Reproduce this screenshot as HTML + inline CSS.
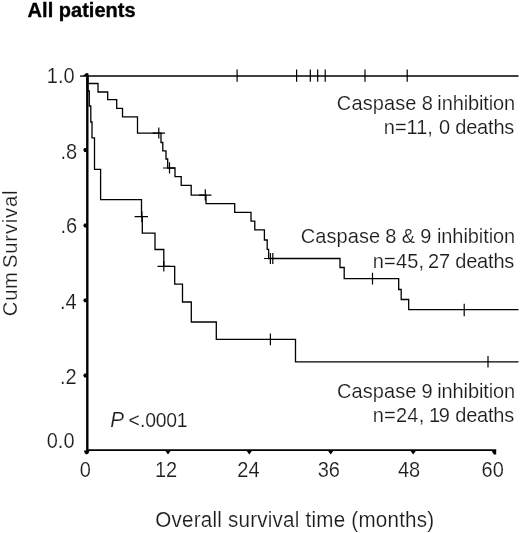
<!DOCTYPE html>
<html>
<head>
<meta charset="utf-8">
<title>All patients</title>
<style>
html,body{margin:0;padding:0;background:#fff;}
body{width:520px;height:533px;overflow:hidden;}
svg{display:block;will-change:transform;opacity:0.9999;}
text{font-family:"Liberation Sans",sans-serif;fill:#1c1c1c;stroke:#fff;stroke-width:0.16;}
.c{fill:none;stroke:#000;stroke-width:1.3;stroke-linejoin:miter;stroke-linecap:butt;}
.t{fill:none;stroke:#000;stroke-width:1.2;}
.ax{fill:none;stroke:#000;}
</style>
</head>
<body>
<svg width="520" height="533" viewBox="0 0 520 533">
<rect width="520" height="533" fill="#fff"/>

<!-- title -->
<text transform="translate(27.6,17.3) scale(1,1)" font-size="20" textLength="108" lengthAdjust="spacing" font-weight="bold" style="fill:#000;stroke:#000;stroke-width:0.35">All patients</text>

<!-- axes -->
<path class="ax" stroke-width="2.4" d="M87.3,73.6 V451"/>
<path class="ax" stroke-width="1.7" d="M86.3,450.2 H496.2"/>

<!-- axis ticks -->
<g fill="#000">
<path d="M80,75.4 H86.5 V76.7 H80 Z"/>
<path d="M82.6,76.2 L86.2,72.9 L88,73.4 V76.2 Z"/>
<path d="M83.2,150 L84.4,148.1 H86.6 V151.9 H84.4 Z"/>
<path d="M83.2,225.5 L84.4,223.6 H86.6 V227.4 H84.4 Z"/>
<path d="M83.2,300.3 L84.4,298.4 H86.6 V302.2 H84.4 Z"/>
<path d="M83.2,375.5 L84.4,373.6 H86.6 V377.4 H84.4 Z"/>
<path d="M83.8,450.6 H89.6 L88.4,453.4 L86.7,454.6 L85,453.4 Z"/>
<path d="M165.1,450.6 H170.9 L168,454.6 Z"/>
<path d="M246.4,450.6 H252.2 L249.3,454.6 Z"/>
<path d="M327.8,450.6 H333.6 L330.7,454.6 Z"/>
<path d="M410.3,450.6 H416.1 L413.2,454.6 Z"/>
<path d="M491.4,450.6 H496.2 V454.5 H493.8 Z"/>
</g>

<!-- y tick labels -->
<text transform="translate(74.6,83.4) scale(1,1.07)" font-size="20" text-anchor="end">1.0</text>
<text transform="translate(77.2,158.6) scale(1,1.07)" font-size="20" text-anchor="end">.8</text>
<text transform="translate(77.2,232.9) scale(1,1.07)" font-size="20" text-anchor="end">.6</text>
<text transform="translate(76.6,309.2) scale(1,1.07)" font-size="20" text-anchor="end">.4</text>
<text transform="translate(76.6,383.5) scale(1,1.07)" font-size="20" text-anchor="end">.2</text>
<text transform="translate(74.5,448.3) scale(1,1.07)" font-size="20" text-anchor="end">0.0</text>
<!-- x tick labels -->
<text transform="translate(85.3,477) scale(1,1.07)" font-size="20" text-anchor="middle">0</text>
<text transform="translate(166.0,477) scale(1,1.07)" font-size="20" text-anchor="middle">12</text>
<text transform="translate(248.4,477) scale(1,1.07)" font-size="20" text-anchor="middle">24</text>
<text transform="translate(328.8,477) scale(1,1.07)" font-size="20" text-anchor="middle">36</text>
<text transform="translate(409.0,477) scale(1,1.07)" font-size="20" text-anchor="middle">48</text>
<text transform="translate(492.7,477) scale(1,1.07)" font-size="20" text-anchor="middle">60</text>
<!-- axis titles -->
<text transform="translate(155.2,527.4) scale(1,1.07)" font-size="20.6" textLength="279" lengthAdjust="spacing">Overall survival time (months)</text>
<text transform="translate(17.1,315.1) rotate(-90)" font-size="20.3"><tspan x="-1.04" textLength="44.1" lengthAdjust="spacing">Cum</tspan> <tspan x="47.08" textLength="77.6" lengthAdjust="spacing">Survival</tspan></text>

<!-- Caspase 8 (flat at 1.0) -->
<path class="c" d="M87,76 H518.5"/>
<path class="t" d="M237.1,69.6 V81.8 M296.6,69.6 V81.8 M310.3,69.6 V81.8 M317.7,69.6 V81.8 M325.2,69.6 V81.8 M365,69.6 V81.8 M407.2,69.6 V81.8"/>

<!-- Caspase 8 and 9 -->
<path class="c" d="M87.5,76 V83.5 H98 V92 H107.7 V99.7 H116.7 V108.3 H122.5 V116.8 H137.5 V133.2 H161 V142.5 H162.8 V150.8 H166 V159 H167.7 V168 H175 V176.6 H181.2 V185.4 H191.2 V195.2 H206 V203.7 H234.7 V212.4 H251 V221.1 H254.8 V229.8 H264.4 V240 H267.2 V249.3 H268.6 V258.5 H340 V267.5 H344.2 V278.7 H398.7 V289.5 H401.2 V299.5 H408.7 V309.6 H518.5"/>
<path class="t" d="M158.8,127.5 V138.6 M152.5,133.2 H165 M169.5,162.2 V173.6 M163,168 H175 M205.3,189.2 V200.6 M199,195.2 H211.5 M270.4,253 V264 M272.8,253 V264 M264,258.5 H276 M372.5,272.8 V284.6 M464.2,303.8 V316.2"/>

<!-- Caspase 9 -->
<path class="c" d="M88,76 V91 H89.3 V106 H90.8 V122 H92 V137.8 H94.5 V169.4 H100.6 V199.7 H141.5 V216.7 H142.3 V233.2 H155 V249.5 H163.8 V266.3 H174.7 V284.2 H182.5 V302 H191.3 V322 H216.3 V339.3 H295.5 V361.9 H518.5"/>
<path class="t" d="M134.6,216.7 H148 M141.9,211.2 V222.2 M157.5,266.3 H170 M163.8,261 V271.6 M270.4,333.5 V345.2 M488,355.9 V367.6"/>

<!-- curve labels -->
<text transform="translate(0,109.7) scale(1,1.02)" font-size="20"><tspan x="336.88" textLength="79.61" lengthAdjust="spacing">Caspase</tspan> <tspan x="421.73">8</tspan> <tspan x="437.36" textLength="77.84" lengthAdjust="spacing">inhibition</tspan></text>
<text transform="translate(0,133.6) scale(1,1.02)" font-size="20"><tspan x="383.87" textLength="48.93" lengthAdjust="spacing">n=11,</tspan> <tspan x="438.92">0</tspan> <tspan x="455.26" textLength="59.06" lengthAdjust="spacing">deaths</tspan></text>
<text transform="translate(0,243.4) scale(1,1.02)" font-size="20"><tspan x="300.88" textLength="79.21" lengthAdjust="spacing">Caspase</tspan> <tspan x="385.23">8</tspan> <tspan x="401.8">&amp;</tspan> <tspan x="420.26">9</tspan> <tspan x="436.96" textLength="78.24" lengthAdjust="spacing">inhibition</tspan></text>
<text transform="translate(0,267.7) scale(1,1.02)" font-size="20"><tspan x="372.77" textLength="51.23" lengthAdjust="spacing">n=45,</tspan> <tspan x="427.89" textLength="22.12" lengthAdjust="spacing">27</tspan> <tspan x="455.26" textLength="59.06" lengthAdjust="spacing">deaths</tspan></text>
<text transform="translate(0,398.3) scale(1,1.02)" font-size="20"><tspan x="336.98" textLength="79.41" lengthAdjust="spacing">Caspase</tspan> <tspan x="421.46">9</tspan> <tspan x="437.16" textLength="78.04" lengthAdjust="spacing">inhibition</tspan></text>
<text transform="translate(0,421.5) scale(1,1.02)" font-size="20"><tspan x="372.67" textLength="51.53" lengthAdjust="spacing">n=24,</tspan> <tspan x="428.98" textLength="20.87" lengthAdjust="spacing">19</tspan> <tspan x="455.26" textLength="58.96" lengthAdjust="spacing">deaths</tspan></text>
<text transform="translate(0,426.5) scale(1,1.07)" font-size="19.4"><tspan x="110.3" font-size="20.6" font-style="italic">P</tspan> <tspan x="128.4">&lt;</tspan><tspan x="140.1" textLength="47.4" lengthAdjust="spacing">.0001</tspan></text>
</svg>
</body>
</html>
